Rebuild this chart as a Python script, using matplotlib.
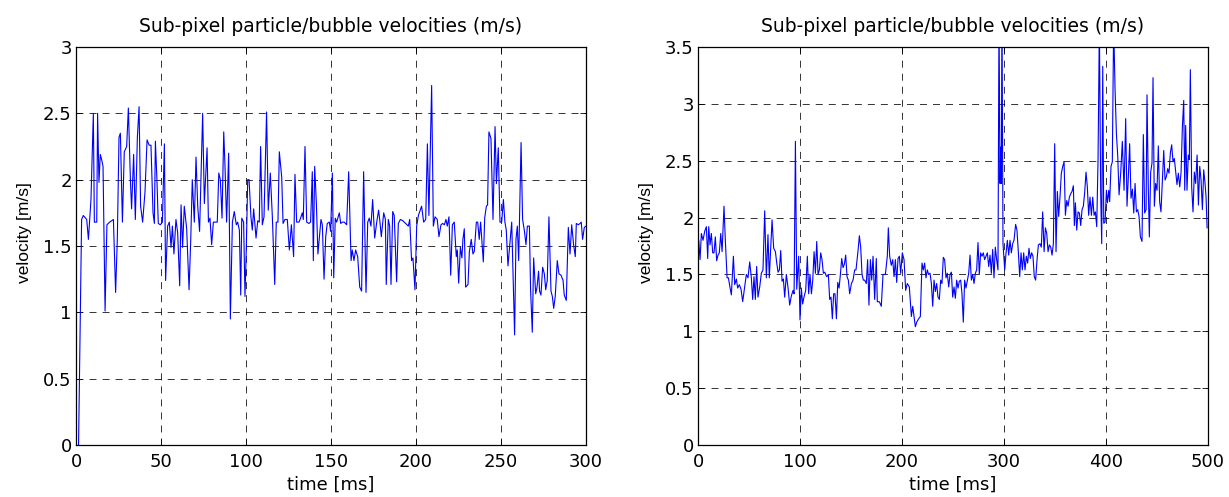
import matplotlib
matplotlib.use("Agg")
import matplotlib.pyplot as plt

plt.rcParams['font.family'] = ['DejaVu Sans']

title = "Sub-pixel particle/bubble velocities (m/s)"
xlabel = "time [ms]"
ylabel = "velocity [m/s]"

# Left panel (0-300 ms)
t_left = [1.5, 3.3, 4.3, 6.3, 7.3, 8.8, 10.2, 10.8, 12.2, 12.7, 13.5, 14.3, 15.1, 15.9, 17.1, 18.2, 19.8, 22.0,
          23.3, 24.3, 25.3, 26.1, 27.3, 28.4, 29.8, 30.8, 32.0, 32.7, 33.9, 34.9, 36.1, 37.1, 38.0, 39.2, 40.6,
          41.8, 43.0, 44.1, 45.3, 46.1, 46.7, 47.6, 48.4, 49.6, 50.8, 52.0, 52.7, 53.9, 54.9, 55.9, 56.7, 57.6,
          58.8, 59.8, 61.0, 61.8, 62.7, 63.7, 65.1, 66.5, 67.5, 68.4, 69.6, 70.6, 71.6, 72.7, 74.5, 75.5, 77.1,
          77.9, 78.8, 79.8, 80.8, 81.8, 83.1, 84.0, 84.9, 85.9, 86.9, 87.6, 88.6, 89.8, 90.8, 92.0, 93.1, 94.3,
          95.1, 96.1, 96.9, 97.5, 98.6, 99.4, 100.2, 101.0, 101.8, 102.9, 103.7, 104.5, 105.9, 106.9, 107.8,
          108.6, 109.6, 110.6, 112.1, 113.1, 114.3, 115.5, 116.9, 117.8, 118.8, 119.6, 121.0, 121.8, 122.9,
          124.3, 125.5, 126.7, 128.0, 128.8, 129.8, 131.2, 132.1, 133.1, 133.7, 134.7, 135.7, 137.0, 138.0,
          139.0, 139.6, 140.4, 141.4, 142.3, 144.1, 144.9, 145.9, 146.9, 147.8, 149.0, 149.8, 150.8, 151.6,
          152.5, 153.3, 154.9, 155.7, 156.7, 157.8, 159.2, 160.4, 161.8, 162.5, 163.5, 164.5, 165.7, 166.9,
          168.0, 169.2, 170.6, 171.6, 172.5, 173.5, 174.5, 175.7, 176.9, 178.0, 178.8, 179.6, 181.0, 182.0,
          182.5, 183.7, 184.5, 185.3, 186.3, 187.2, 188.6, 189.6, 190.8, 192.3, 193.9, 195.5, 196.3, 197.4,
          198.2, 199.4, 200.4, 201.4, 202.5, 203.3, 204.5, 205.7, 206.7, 207.6, 209.2, 210.2, 211.2, 212.5,
          213.5, 214.7, 215.7, 216.7, 217.6, 218.4, 219.4, 220.4, 221.4, 222.5, 223.7, 224.3, 225.1, 226.1,
          227.0, 227.6, 228.4, 229.2, 230.6, 231.4, 232.5, 233.5, 234.3, 235.5, 236.3, 237.2, 238.0, 239.6,
          240.4, 241.4, 242.1, 242.9, 244.1, 245.3, 246.5, 247.3, 248.4, 249.4, 250.4, 251.4, 252.3, 253.1,
          254.1, 255.3, 256.3, 257.0, 258.0, 258.8, 259.6, 260.4, 261.8, 262.7, 263.7, 264.7, 265.5, 266.7,
          267.4, 268.4, 269.2, 270.4, 271.2, 272.1, 272.7, 273.5, 274.5, 275.5, 276.3, 277.2, 278.2, 279.4,
          280.2, 281.0, 281.9, 283.1, 284.1, 285.3, 286.5, 287.2, 288.4, 289.6, 290.6, 291.6, 292.7, 293.7,
          294.3, 295.5, 296.5, 297.2, 298.0, 299.0, 300.0]
v_left = [0.0, 1.70, 1.73, 1.70, 1.55, 1.85, 2.50, 1.68, 1.68, 2.50, 1.98, 2.19, 2.15, 2.10, 1.01, 1.66, 1.68, 1.70,
          1.15, 1.55, 2.32, 2.35, 1.68, 2.21, 2.25, 2.54, 2.00, 1.78, 2.19, 1.70, 2.32, 2.55, 1.80, 1.68, 1.91,
          2.30, 2.26, 2.26, 1.75, 1.67, 2.29, 2.00, 1.67, 1.66, 1.68, 2.27, 1.24, 1.65, 1.68, 1.49, 1.65, 1.44,
          1.70, 1.60, 1.20, 1.81, 1.49, 1.80, 1.63, 1.17, 1.55, 2.00, 1.68, 2.17, 1.80, 1.61, 2.50, 1.82, 2.24,
          1.68, 1.71, 1.51, 1.68, 1.68, 1.68, 2.05, 2.00, 1.71, 2.36, 2.12, 1.68, 2.20, 0.95, 1.68, 1.76, 1.66,
          1.68, 1.62, 1.13, 1.71, 1.68, 1.12, 1.49, 2.00, 2.00, 1.72, 1.62, 1.78, 1.56, 1.69, 1.68,
          2.25, 1.66, 1.72, 2.51, 1.77, 2.05, 1.72, 1.21, 1.68, 1.68, 2.21, 2.02, 1.67, 1.70,
          1.70, 1.47, 1.66, 1.42, 2.04, 1.68, 1.68, 1.71, 1.75, 1.70, 2.25, 1.68, 1.67, 1.68,
          2.06, 1.39, 2.10, 1.82, 1.44, 1.70, 1.66, 1.25, 1.57, 1.67, 1.68, 1.61, 2.05, 1.26,
          1.71, 1.68, 1.75, 1.67, 1.68, 1.68, 1.66, 2.06, 1.39, 1.47, 1.39, 1.47, 1.42, 1.19,
          1.16, 2.06, 1.15, 1.68, 1.71, 1.65, 1.85, 1.56, 1.68, 1.77, 1.68, 1.57, 1.75, 1.70,
          1.21, 1.70, 1.65, 1.21, 1.76, 1.73, 1.23, 1.67, 1.70, 1.69, 1.67, 1.65, 1.70, 1.39,
          1.41, 1.17, 1.65, 1.73, 1.77, 1.80, 1.68, 1.70, 2.27, 1.73, 2.71, 1.65, 1.72, 1.70,
          1.57, 1.66, 1.67, 1.66, 1.70, 1.65, 1.72, 1.28, 1.66, 1.68, 1.42, 1.47, 1.22, 1.49,
          1.41, 1.55, 1.63, 1.19, 1.21, 1.46, 1.55, 1.44, 1.46, 1.68, 1.68, 1.55, 1.68, 1.38,
          1.71, 1.80, 1.81, 2.36, 2.31, 1.70, 2.40, 1.97, 2.24, 1.68, 1.68, 1.85, 1.68, 1.62,
          1.35, 1.53, 1.68, 1.34, 0.83, 1.55, 1.65, 1.39, 2.28, 1.70, 1.62, 1.51, 1.65, 1.65,
          1.17, 0.85, 1.41, 1.14, 1.19, 1.31, 1.16, 1.13, 1.34, 1.29, 1.17, 1.24, 1.72, 1.16,
          1.12, 1.03, 1.12, 1.39, 1.29, 1.28, 1.24, 1.13, 1.09, 1.64, 1.44, 1.66, 1.51, 1.42,
          1.67, 1.66, 1.67, 1.68, 1.55, 1.64, 1.65]

# Right panel (0-500 ms)
t_right = [0.7, 2.0, 3.3, 4.9, 6.6, 8.2, 9.5, 10.5, 11.8, 13.1, 14.4, 15.7, 17.0, 18.3, 19.6, 20.9, 22.3, 23.6,
           25.5, 26.8, 28.5, 29.8, 31.1, 32.7, 34.7, 36.0, 37.6, 38.9, 40.5, 42.2, 43.8, 45.8, 47.4, 49.0, 50.7,
           52.3, 53.6, 54.9, 56.2, 57.5, 58.8, 60.5, 62.1, 63.7, 65.4, 67.0, 68.6, 69.9, 71.3, 72.6, 74.2, 75.9,
           77.2, 78.5, 79.8, 81.1, 82.4, 83.7, 85.0, 86.6, 88.3, 89.9, 91.5, 93.2, 94.2, 95.5, 96.8, 98.7, 100.0,
           101.3, 102.6, 103.9, 105.6, 107.2, 108.5, 109.8, 111.2, 112.5, 113.8, 115.1, 116.4, 117.7, 119.0,
           120.3, 121.6, 122.9, 124.2, 126.2, 127.8, 129.1, 130.4, 131.7, 133.0, 134.3, 135.7, 137.0, 138.3,
           139.6, 140.9, 142.2, 143.5, 144.8, 146.1, 147.4, 148.7, 150.4, 152.0, 153.6, 154.9, 156.9, 158.2,
           159.5, 160.8, 162.1, 163.4, 165.0, 166.3, 167.6, 169.0, 170.3, 171.6, 173.2, 174.8, 175.8, 177.8,
           179.7, 181.4, 183.7, 185.6, 186.6, 187.9, 189.5, 190.9, 192.2, 193.5, 194.8, 196.1, 197.4, 198.7,
           200.3, 202.0, 203.6, 205.2, 207.2, 209.2, 210.5, 211.8, 213.1, 214.4, 216.3, 218.0, 219.6, 220.9,
           222.2, 223.5, 224.8, 226.1, 227.5, 228.8, 230.1, 231.4, 232.7, 234.0, 235.3, 236.6, 237.9, 239.2,
           240.5, 241.8, 243.1, 244.4, 245.8, 247.1, 248.4, 249.7, 251.0, 252.3, 253.6, 254.9, 256.2, 257.5,
           258.8, 260.1, 261.4, 262.7, 264.1, 265.4, 266.7, 268.0, 269.3, 270.6, 271.9, 273.2, 274.5, 275.8,
           277.1, 278.4, 279.7, 281.0, 282.4, 283.7, 285.0, 286.3, 287.6, 288.9, 290.2, 291.5, 292.8, 294.1,
           295.1, 296.1, 296.7, 297.4, 298.0, 299.0, 300.7, 302.0, 303.3, 304.6, 305.9, 307.2, 308.5, 309.8,
           311.4, 312.7, 314.1, 315.4, 316.7, 318.0, 319.3, 320.6, 321.9, 323.2, 324.5, 325.8, 327.1, 328.4,
           329.7, 331.0, 332.4, 333.7, 335.3, 336.6, 337.9, 339.3, 340.6, 341.9, 343.2, 344.5, 345.8, 347.1,
           348.4, 349.7, 351.0, 352.3, 353.6, 354.9, 356.2, 357.6, 358.9, 360.2, 361.5, 362.8, 364.1, 365.4,
           366.7, 368.0, 369.0, 370.0, 371.3, 372.6, 373.9, 375.2, 376.5, 377.8, 379.1, 380.4, 381.7, 383.0,
           384.3, 385.7, 387.0, 388.3, 389.6, 390.9, 392.2, 393.5, 394.8, 395.8, 396.8, 397.8, 399.1, 400.4,
           401.4, 402.7, 403.6, 404.9, 406.2, 407.5, 408.9, 410.2, 411.5, 412.8, 414.4, 416.0, 417.7, 419.3,
           420.6, 421.9, 423.2, 424.5, 425.9, 427.2, 428.5, 429.8, 431.1, 432.4, 433.7, 435.3, 436.6, 437.9,
           439.3, 440.2, 441.5, 442.5, 443.8, 445.1, 446.1, 447.4, 448.7, 450.0, 451.3, 452.6, 453.9, 455.3,
           456.6, 457.9, 459.2, 460.5, 461.8, 463.1, 464.4, 465.7, 467.0, 468.3, 469.6, 470.9, 472.3, 473.6,
           474.9, 476.2, 477.2, 478.1, 479.4, 480.7, 481.7, 482.7, 484.0, 485.3, 486.6, 487.9, 489.3, 490.6,
           491.9, 493.2, 494.5, 495.8, 497.1, 498.1, 499.1]
v_right = [1.80, 1.63, 1.86, 1.80, 1.88, 1.92, 1.64, 1.92, 1.76, 1.86, 1.69, 1.69, 1.83, 1.62, 1.67, 1.69, 1.86, 1.70,
           2.10, 1.80, 1.47, 1.47, 1.40, 1.32, 1.66, 1.41, 1.46, 1.38, 1.41, 1.37, 1.26, 1.39, 1.50, 1.47, 1.61,
           1.47, 1.28, 1.48, 1.28, 1.57, 1.30, 1.39, 1.51, 1.54, 2.06, 1.47, 1.85, 1.47, 1.73, 1.98, 1.73, 1.70,
           1.60, 1.52, 1.54, 1.71, 1.44, 1.46, 1.30, 1.50, 1.38, 1.23, 1.31, 1.36, 1.33, 2.67, 1.37, 1.66, 1.10,
           1.38, 1.24, 1.30, 1.36, 1.66, 1.33, 1.50, 1.33, 1.45, 1.70, 1.51, 1.79, 1.50, 1.54,
           1.69, 1.63, 1.51, 1.52, 1.48, 1.50, 1.28, 1.30, 1.11, 1.33, 1.33, 1.11, 1.43, 1.38,
           1.50, 1.64, 1.56, 1.59, 1.67, 1.48, 1.45, 1.33, 1.42, 1.45, 1.54, 1.54, 1.71, 1.84,
           1.74, 1.50, 1.45, 1.45, 1.42, 1.63, 1.23, 1.63, 1.45, 1.66, 1.28, 1.64, 1.26, 1.26,
           1.22, 1.50, 1.50, 1.66, 1.91, 1.66, 1.58, 1.63, 1.48, 1.63, 1.43, 1.64, 1.66, 1.51,
           1.69, 1.63, 1.36, 1.42, 1.39, 1.13, 1.22, 1.13, 1.04, 1.08, 1.11, 1.13, 1.60, 1.54,
           1.60, 1.47, 1.54, 1.50, 1.51, 1.42, 1.22, 1.45, 1.35, 1.42, 1.30, 1.28, 1.45, 1.42,
           1.65, 1.63, 1.47, 1.51, 1.39, 1.50, 1.52, 1.30, 1.39, 1.29, 1.45, 1.38, 1.44, 1.45,
           1.33, 1.08, 1.45, 1.38, 1.45, 1.51, 1.67, 1.45, 1.50, 1.42, 1.51, 1.54, 1.78, 1.50,
           1.69, 1.66, 1.69, 1.63, 1.66, 1.69, 1.57, 1.67, 1.51, 1.72, 1.47, 1.74, 1.63, 1.54,
           3.80, 2.30, 2.62, 2.30, 3.90, 1.77, 1.54, 1.69, 1.80, 1.67, 1.80, 1.69, 1.77, 1.80,
           1.94, 1.89, 1.69, 1.48, 1.69, 1.54, 1.69, 1.54, 1.66, 1.60, 1.73, 1.64, 1.69, 1.66,
           1.48, 1.45, 1.63, 1.76, 1.77, 1.74, 2.05, 1.70, 1.91, 1.86, 1.70, 1.76, 1.74, 1.67,
           1.77, 2.65, 1.70, 2.23, 2.01, 2.18, 2.39, 2.45, 2.49, 2.02, 2.15, 2.10, 2.18, 2.21,
           2.23, 2.28, 1.93, 2.13, 1.89, 2.05, 2.04, 1.93, 2.07, 2.10, 2.22, 2.40, 2.27, 2.02,
           2.18, 2.02, 2.18, 2.02, 2.05, 1.92, 2.51, 3.70, 2.21, 1.77, 3.33, 1.95, 1.96, 2.24,
           2.13, 2.24, 2.14, 2.45, 2.49, 3.70, 3.12, 2.74, 2.54, 2.20, 2.39, 2.67, 2.24, 2.87,
           2.10, 2.36, 2.65, 2.17, 2.25, 2.04, 2.30, 2.05, 2.07, 2.01, 1.83, 1.79, 2.73, 2.04,
           2.07, 3.08, 2.24, 1.83, 2.40, 2.48, 3.23, 2.10, 2.30, 2.24, 2.63, 2.14, 2.05, 2.32,
           2.59, 2.33, 2.36, 2.43, 2.39, 2.57, 2.64, 2.49, 2.52, 2.40, 2.29, 2.39, 2.27, 2.40,
           2.80, 3.03, 2.24, 2.81, 2.24, 2.55, 2.51, 3.30, 2.27, 2.05, 2.40, 2.30, 2.55, 2.11,
           2.45, 2.33, 2.07, 2.42, 2.30, 2.18, 1.91]

left_yticks = [0, 0.5, 1, 1.5, 2, 2.5, 3]
left_yticklabels = ["0", "0.5", "1", "1.5", "2", "2.5", "3"]
left_xticks = [0, 50, 100, 150, 200, 250, 300]
right_yticks = [0, 0.5, 1, 1.5, 2, 2.5, 3, 3.5]
right_yticklabels = ["0", "0.5", "1", "1.5", "2", "2.5", "3", "3.5"]
right_xticks = [0, 100, 200, 300, 400, 500]

W, H = 1229, 497
fig = plt.figure(figsize=(W / 100, H / 100), dpi=100)
ax1 = fig.add_axes([76 / W, 1 - 445 / H, 510 / W, 398 / H])
ax2 = fig.add_axes([698 / W, 1 - 445 / H, 510 / W, 398 / H])

FS = 13
GLW = 0.7

def style(ax, xt, yt, ytl, xlim, ylim):
    ax.set_xlim(*xlim)
    ax.set_ylim(*ylim)
    ax.set_xticks(xt)
    ax.set_xticklabels([str(v) for v in xt])
    ax.set_yticks(yt)
    ax.set_yticklabels(ytl)
    ax.tick_params(direction='in', top=True, right=True, labelsize=FS, length=4, width=0.6)
    ax.tick_params(axis='x', pad=6)
    ax.tick_params(axis='y', pad=3)
    ax.grid(True, color='black', linestyle=(0, (7.2, 6.2)), linewidth=GLW, alpha=0.8)
    for s in ax.spines.values():
        s.set_linewidth(0.9)
    ax.set_title(title, fontsize=13.5, pad=11)
    ax.set_xlabel(xlabel, fontsize=FS, labelpad=3)
    ax.set_ylabel(ylabel, fontsize=12.5, family=['Liberation Sans', 'DejaVu Sans'])
    ax.yaxis.set_label_coords(-44 / 510, 0.535)

ax1.plot(t_left, v_left, color=(0, 0, 1), linewidth=0.8)
style(ax1, left_xticks, left_yticks, left_yticklabels, (0, 300), (0, 3))
ax2.plot(t_right, v_right, color=(0, 0, 1), linewidth=0.8)
style(ax2, right_xticks, right_yticks, right_yticklabels, (0, 500), (0, 3.5))

fig.savefig("out.png", dpi=100)
